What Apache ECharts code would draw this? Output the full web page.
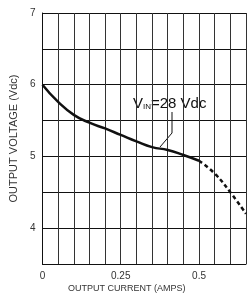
<!DOCTYPE html>
<html>
<head>
<meta charset="utf-8">
<script src="https://cdn.jsdelivr.net/npm/echarts@6/dist/echarts.min.js"></script>
<style>
  html, body { margin: 0; padding: 0; background: #fff; }
  #chart { width: 249px; height: 298px; }
</style>
</head>
<body>
<div id="chart"></div>
<script>
// output current (A) / output voltage (V)
var currentSolid = [0, 0.05, 0.1, 0.15, 0.2, 0.25, 0.3, 0.35, 0.4, 0.45, 0.5];
var voltageSolid = [6.0, 5.76, 5.58, 5.47, 5.39, 5.30, 5.21, 5.13, 5.09, 5.02, 4.94];
var currentDashed = [0.5, 0.55, 0.6, 0.65];
var voltageDashed = [4.94, 4.76, 4.5, 4.2];
var xTickLabels = ['0', '0.25', '0.5'];
var yTickLabels = ['4', '5', '6', '7'];

function pairs(xs, ys){
	var out = [];
	for(var i=0;i<xs.length;i++){ out.push([xs[i], ys[i]]); }
	return out;
}

var myChart = echarts.init(document.getElementById('chart'));
var font = 'Liberation Sans, Arial, sans-serif';

var option = {
	animation: false,
	grid: { left: 38, top: 13, right: -5, bottom: 34 },
	xAxis: {
		type: 'value',
		min: 0,
		max: 0.65,
		interval: 0.05,
		axisLine: { show: true, onZero: false, lineStyle: { color: '#111', width: 1 } },
		axisTick: { show: false },
		axisLabel: {
			color: '#333', fontFamily: font, fontSize: 10, margin: 7,
			formatter: function(v){
				var s = String(Math.round(v*100)/100);
				return xTickLabels.indexOf(s) >= 0 ? s : '';
			}
		},
		splitLine: { show: true, lineStyle: { color: '#333', width: 1 } }
	},
	yAxis: {
		type: 'value',
		min: 3.5,
		max: 7,
		interval: 0.5,
		name: 'OUTPUT VOLTAGE (Vdc)',
		nameLocation: 'middle',
		nameGap: 19,
		nameTextStyle: { color: '#333', fontFamily: font, fontSize: 11 },
		axisLine: { show: true, onZero: false, lineStyle: { color: '#111', width: 1 } },
		axisTick: { show: false },
		axisLabel: {
			color: '#333', fontFamily: font, fontSize: 10, margin: 7,
			formatter: function(v){
				var s = String(Math.round(v*100)/100);
				return yTickLabels.indexOf(s) >= 0 ? s : '';
			}
		},
		splitLine: { show: true, lineStyle: { color: '#111', width: 1 } }
	},
	graphic: [
		{
			type: 'text', left: 68, top: 284,
			style: { text: 'OUTPUT CURRENT (AMPS)', fill: '#333', font: '9px ' + font }
		},
		{
			type: 'text', left: 133, top: 96,
			style: {
				text: '{v|V}{s|IN}{v|=28 Vdc}',
				rich: {
					v: { fontSize: 15, fontFamily: font, fill: '#111' },
					s: { fontSize: 8, fontFamily: font, fill: '#111', verticalAlign: 'bottom', padding: [6, 0, 0, 0] }
				}
			}
		},
		{
			type: 'polyline',
			shape: { points: [[172, 112], [172, 133], [160, 147]] },
			style: { stroke: '#111', lineWidth: 1, fill: null }
		}
	],
	series: [
		{
			type: 'line',
			data: pairs(currentSolid, voltageSolid),
			smooth: true,
			symbol: 'none',
			lineStyle: { color: '#111', width: 2.5 }
		},
		{
			type: 'line',
			data: pairs(currentDashed, voltageDashed),
			smooth: true,
			symbol: 'none',
			lineStyle: { color: '#111', width: 2.5, type: [4, 3] }
		}
	]
};
myChart.setOption(option);
</script>
</body>
</html>
